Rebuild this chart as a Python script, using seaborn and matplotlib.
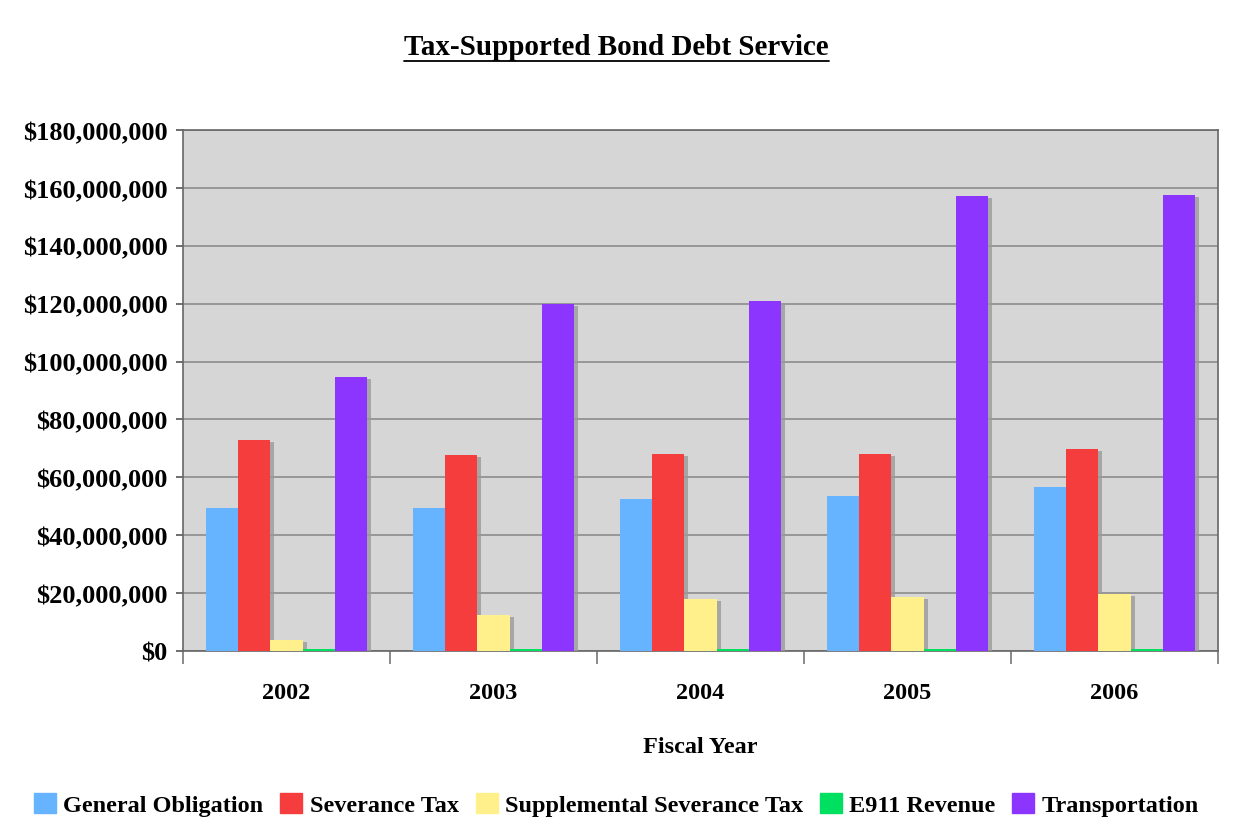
import numpy as np
import pandas as pd
import matplotlib
matplotlib.use("Agg")
import matplotlib.pyplot as plt
import matplotlib.patheffects as pe
from matplotlib.ticker import FuncFormatter, FixedLocator
from matplotlib.lines import Line2D
import seaborn as sns

# данные ($)
years = ["2002", "2003", "2004", "2005", "2006"]
series = ["General Obligation", "Severance Tax", "Supplemental Severance Tax",
          "E911 Revenue", "Transportation"]
general_obligation = [49.4e6, 49.4e6, 52.5e6, 53.6e6, 56.7e6]
severance_tax = [72.9e6, 67.7e6, 68.1e6, 68.1e6, 69.8e6]
supplemental_severance = [3.8e6, 12.4e6, 18.0e6, 18.7e6, 19.7e6]
e911_revenue = [0.7e6, 0.7e6, 0.7e6, 0.7e6, 0.7e6]
transportation = [94.7e6, 120.0e6, 121.0e6, 157.3e6, 157.6e6]

colors = ["#66b3ff", "#f53d3d", "#fff08c", "#00e060", "#8c35ff"]

df = pd.DataFrame({
    "year": years * 5,
    "series": np.repeat(series, len(years)),
    "value": general_obligation + severance_tax + supplemental_severance
             + e911_revenue + transportation,
})

sns.set_theme(style="white")
plt.rcParams["font.family"] = ["Liberation Serif", "DejaVu Serif"]
plt.rcParams["font.weight"] = "bold"
plt.rcParams["text.color"] = "black"
plt.rcParams["axes.labelcolor"] = "black"
plt.rcParams["xtick.color"] = "black"
plt.rcParams["ytick.color"] = "black"

fig = plt.figure(figsize=(12.33, 8.28), dpi=100)
ax = fig.add_axes([0.1484, 0.2126, 0.8394, 0.6292])
ax.set_facecolor("#d6d6d6")

sns.barplot(data=df, x="year", y="value", hue="series", hue_order=series,
            order=years, palette=colors, width=0.78, saturation=1,
            errorbar=None, ax=ax, legend=False, zorder=3)

# тень справа от столбцов
for bar in ax.patches:
    bar.set_path_effects([pe.SimplePatchShadow(offset=(3, -1.5),
                                               shadow_rgbFace="#9a9a9a", alpha=0.8),
                          pe.Normal()])
    bar.set_edgecolor("none")

ax.set_ylim(0, 180e6)
ax.set_xlim(-0.5, 4.5)
ax.yaxis.set_major_locator(FixedLocator(np.arange(0, 180e6 + 1, 20e6)))
ax.yaxis.set_major_formatter(FuncFormatter(lambda v, p: "${:,.0f}".format(v)))
ax.grid(axis="y", color="#8c8c8c", linewidth=1.2, zorder=1)
ax.set_axisbelow(True)

# деления по оси X на границах групп
ax.xaxis.set_minor_locator(FixedLocator(np.arange(-0.5, 5, 1)))
ax.tick_params(axis="both", which="both", bottom=True, left=True)
ax.tick_params(axis="x", which="major", length=0, pad=22, labelsize=17.5,
               labelcolor="black")
ax.tick_params(axis="x", which="minor", length=9, width=1.2, color="#777777")
ax.tick_params(axis="y", which="major", length=5, width=1.2, color="#555555",
               labelsize=19, pad=6, labelcolor="black")
ax.tick_params(axis="y", which="minor", left=False)
for lbl in ax.get_xticklabels() + ax.get_yticklabels():
    lbl.set_fontweight("bold")

for s in ax.spines.values():
    s.set_color("#666666")
    s.set_linewidth(1.2)

ax.set_xlabel("Fiscal Year", fontsize=17.5, fontweight="bold", labelpad=24,
              color="black")
ax.set_ylabel("")

title = fig.text(0.5, 0.943, "Tax-Supported Bond Debt Service", ha="center",
                 va="center", fontsize=21, fontweight="bold", color="black")

handles = [plt.Rectangle((0, 0), 1, 1, color=c) for c in colors]
fig.legend(handles, series, loc="center", bbox_to_anchor=(0.5, 0.027), ncol=5,
           frameon=False, prop={"size": 17.5, "weight": "bold"},
           handlelength=0.9, handleheight=0.9, handletextpad=0.3,
           columnspacing=0.7, labelcolor="black")

# подчёркивание заголовка
fig.canvas.draw()
bb = title.get_window_extent().transformed(fig.transFigure.inverted())
fig.add_artist(Line2D([bb.x0, bb.x1], [bb.y0 - 0.002, bb.y0 - 0.002],
                      color="black", linewidth=1.3, transform=fig.transFigure))

fig.savefig("out.png", dpi=100)
